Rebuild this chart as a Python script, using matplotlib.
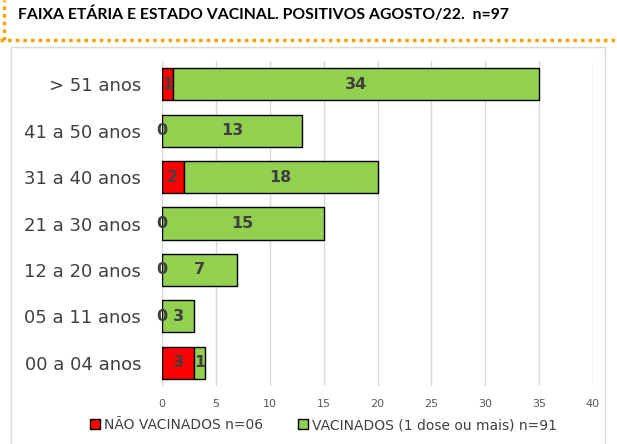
import matplotlib.pyplot as plt
from matplotlib.patches import Rectangle
from matplotlib.lines import Line2D

# -----------------------------
# Data
# -----------------------------
categories = ["00 a 04 anos", "05 a 11 anos", "12 a 20 anos", "21 a 30 anos",
              "31 a 40 anos", "41 a 50 anos", "> 51 anos"]
nao_vacinados = [3, 0, 0, 0, 2, 0, 1]
vacinados = [1, 3, 7, 15, 18, 13, 34]
x_ticks = [0, 5, 10, 15, 20, 25, 30, 35, 40]

RED = "#FF0000"
GREEN = "#92D050"
LABEL_COLOR = "#404040"

fig = plt.figure(figsize=(6.17, 4.44), dpi=100)

# orange dotted border of the slide box
fig.add_artist(Line2D([0, 1], [1 - 40 / 444] * 2, color="#FFA000", lw=2.5,
                      linestyle=(0, (1, 1.2)), transform=fig.transFigure))
fig.add_artist(Line2D([4 / 617] * 2, [1 - 40 / 444, 1], color="#FFA000", lw=2.5,
                      linestyle=(0, (1, 1.2)), transform=fig.transFigure))

# chart frame
fig.add_artist(Rectangle((11 / 617, -0.01), (605 - 11) / 617, 1 - 47 / 444 + 0.01,
                         fill=False, edgecolor="#D9D9D9", lw=1,
                         transform=fig.transFigure))

fig.text(18 / 617, 1 - 14 / 444, "FAIXA ETÁRIA E ESTADO VACINAL. POSITIVOS AGOSTO/22.  n=97",
         fontsize=11.3, fontweight="bold", family="Lato", color="black", va="center")

ax = fig.add_axes([162 / 617, 1 - 386 / 444, (593 - 162) / 617, (386 - 61) / 444])

y = range(len(categories))
bar_h = 0.69
ax.barh(y, nao_vacinados, height=bar_h, color=RED, edgecolor="black", lw=1,
        label="NÃO VACINADOS n=06", zorder=3)
ax.barh(y, vacinados, left=nao_vacinados, height=bar_h, color=GREEN,
        edgecolor="black", lw=1, label="VACINADOS (1 dose ou mais) n=91", zorder=3)

for i in y:
    ax.text(nao_vacinados[i] / 2, i, str(nao_vacinados[i]), ha="center", va="center",
            fontsize=11.5, fontweight="bold", color=LABEL_COLOR, zorder=4)
    ax.text(nao_vacinados[i] + vacinados[i] / 2, i, str(vacinados[i]), ha="center",
            va="center", fontsize=11.5, fontweight="bold", color=LABEL_COLOR, zorder=4)

ax.set_xlim(0, 40)
ax.set_ylim(-0.5, len(categories) - 0.5)
ax.set_xticks(x_ticks)
ax.set_yticks(list(y))
ax.set_yticklabels(categories, fontsize=13, color="#404040")
ax.tick_params(axis="x", labelsize=8, colors="#595959", length=0, pad=9)
ax.tick_params(axis="y", length=0, pad=15)
ax.grid(axis="x", color="#D9D9D9", lw=1, zorder=0)
for s in ["top", "right", "bottom"]:
    ax.spines[s].set_visible(False)
ax.spines["left"].set_color("#D9D9D9")

ax.legend(loc="center", bbox_to_anchor=(0.375, -0.12), ncol=2, frameon=False,
          fontsize=10, handlelength=0.7, handleheight=0.7, handletextpad=0.3,
          columnspacing=2.5, labelcolor="#404040")

fig.savefig("out.png", dpi=100)
